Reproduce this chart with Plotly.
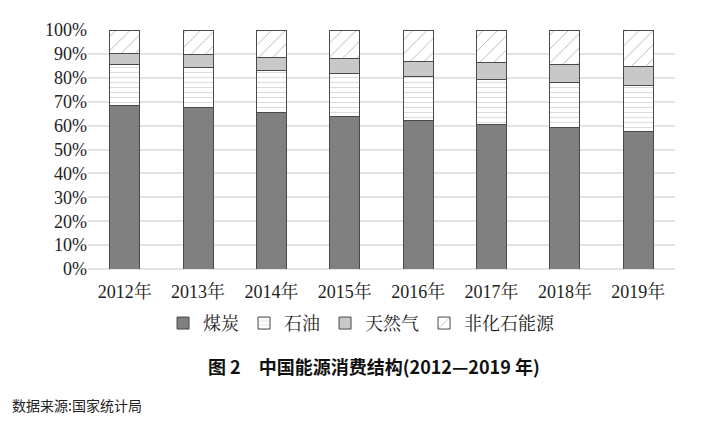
import plotly.graph_objects as go

years = ["2012年", "2013年", "2014年", "2015年", "2016年", "2017年", "2018年", "2019年"]
coal = [68.5, 67.4, 65.6, 63.7, 62.0, 60.4, 59.0, 57.7]
oil = [17.0, 17.1, 17.4, 18.3, 18.5, 18.8, 18.9, 19.0]
gas = [4.8, 5.3, 5.7, 5.9, 6.2, 7.0, 7.6, 8.0]
non_fossil = [9.7, 10.2, 11.3, 12.1, 13.3, 13.8, 14.5, 15.3]

SERIF = "Liberation Serif, Noto Serif CJK SC, Noto Sans CJK SC, serif"
LINE = dict(color="#4a4a4a", width=1)

fig = go.Figure()
fig.add_trace(go.Bar(
    name="煤炭", x=years, y=coal,
    marker=dict(color="#808080", line=LINE),
))
fig.add_trace(go.Bar(
    name="石油", x=years, y=oil,
    marker=dict(color="white", line=LINE,
                pattern=dict(shape="-", fgcolor="#a0a0a0", bgcolor="white",
                             size=5, solidity=0.15)),
))
fig.add_trace(go.Bar(
    name="天然气", x=years, y=gas,
    marker=dict(color="#c8c8c8", line=LINE),
))
fig.add_trace(go.Bar(
    name="非化石能源", x=years, y=non_fossil,
    marker=dict(color="white", line=LINE,
                pattern=dict(shape="/", fgcolor="#555555", bgcolor="white",
                             size=10, solidity=0.08)),
))

fig.update_layout(
    barmode="stack",
    bargap=0.59,
    width=713, height=427,
    margin=dict(l=80, r=46, t=16, b=166),
    plot_bgcolor="white",
    paper_bgcolor="white",
    font=dict(family=SERIF, size=17, color="#222222"),
    showlegend=True,
    legend=dict(
        orientation="h", x=0.466, xanchor="center", y=-0.15, yanchor="top",
        font=dict(size=18), itemwidth=30, traceorder="normal",
    ),
    xaxis=dict(showline=False, ticks="outside", ticklen=6, tickcolor="white",
               tickfont=dict(size=18)),
    yaxis=dict(
        range=[0, 100], dtick=10, ticksuffix="%",
        showgrid=True, gridcolor="#e3e3e3", gridwidth=2,
        zeroline=True, zerolinecolor="#e3e3e3", zerolinewidth=2,
        tickfont=dict(size=18),
    ),
    annotations=[
        dict(text="<b>图 2　中国能源消费结构(2012—2019 年)</b>",
             xref="paper", yref="paper", x=0.487, y=-0.404, xanchor="center",
             yanchor="middle", showarrow=False,
             font=dict(family="Noto Sans CJK SC, sans-serif", size=18, color="#111111")),
        dict(text="数据来源:国家统计局",
             xref="paper", yref="paper", x=-0.133, y=-0.567, xanchor="left",
             yanchor="middle", showarrow=False,
             font=dict(family="Noto Sans CJK SC, sans-serif", size=14, color="#222222")),
    ],
)

fig.write_html("out.html")
